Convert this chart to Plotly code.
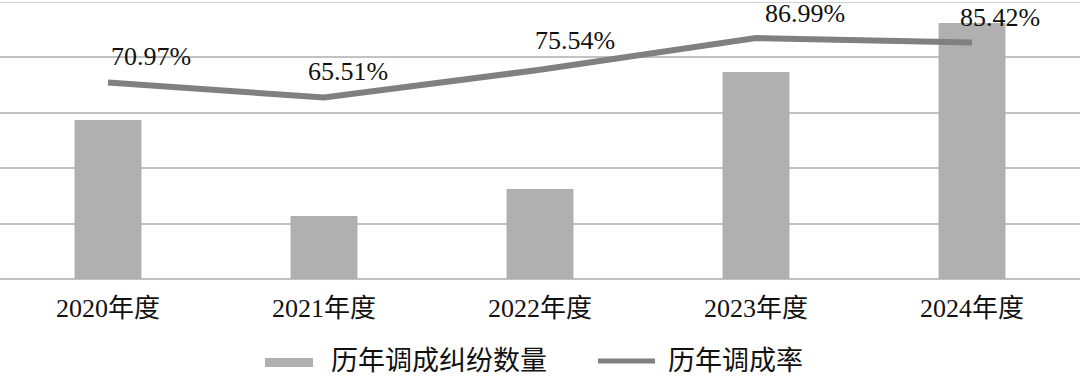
import plotly.graph_objects as go

# ---- data ----
categories = ["2020年度", "2021年度", "2022年度", "2023年度", "2024年度"]
dispute_counts = [574, 227, 325, 747, 924]          # 历年调成纠纷数量 (relative, no axis labels shown)
success_rate = [70.97, 65.51, 75.54, 86.99, 85.42]  # 历年调成率 (%)
rate_labels = ["70.97%", "65.51%", "75.54%", "86.99%", "85.42%"]
series_names = ["历年调成纠纷数量", "历年调成率"]

# ---- styling ----
label_dx = [43, 24, 35, 49, 28]
label_dy = [26, 26, 29, 25, 25]
BAR_COLOR = "#b0b0b0"
LINE_COLOR = "#808080"
GRID_COLOR = "#c2c2c2"
FONT = "Liberation Serif, Noto Sans CJK SC, serif"

W, H = 1080, 377
TOP, BOTTOM = 2, 279


def py(y):
    return (BOTTOM - y) / (BOTTOM - TOP)


def px(x):
    return x / W


fig = go.Figure()
fig.add_trace(go.Bar(x=categories, y=dispute_counts, name=series_names[0],
                     marker=dict(color=BAR_COLOR, line=dict(width=0)),
                     width=0.31, yaxis="y", showlegend=False))
fig.add_trace(go.Scatter(x=categories, y=success_rate, name=series_names[1],
                         mode="lines", line=dict(color=LINE_COLOR, width=6),
                         yaxis="y2", showlegend=False))

annotations = []
for c, v, t, dx, dy in zip(categories, success_rate, rate_labels, label_dx, label_dy):
    annotations.append(dict(x=c, y=v, xref="x", yref="y2", text=t, showarrow=False,
                            xshift=dx, yshift=dy,
                            font=dict(family=FONT, size=26, color="#111111")))

# custom legend
shapes = [
    dict(type="line", xref="paper", yref="y", x0=0, x1=1, y0=1000, y1=1000,
         line=dict(color=GRID_COLOR, width=1.5), layer="below"),
    dict(type="rect", xref="paper", yref="paper",
         x0=px(265), x1=px(313), y0=py(367), y1=py(358),
         fillcolor=BAR_COLOR, line=dict(width=0)),
    dict(type="line", xref="paper", yref="paper",
         x0=px(598), x1=px(655), y0=py(361), y1=py(361),
         line=dict(color=LINE_COLOR, width=5)),
]
annotations.append(dict(x=px(329), y=py(361), xref="paper", yref="paper",
                        text=series_names[0], showarrow=False, xanchor="left", yanchor="middle",
                        font=dict(family=FONT, size=27, color="#111111")))
annotations.append(dict(x=px(666), y=py(361), xref="paper", yref="paper",
                        text=series_names[1], showarrow=False, xanchor="left", yanchor="middle",
                        font=dict(family=FONT, size=27, color="#111111")))

fig.update_layout(
    width=W, height=H,
    margin=dict(l=0, r=0, t=TOP, b=H - BOTTOM),
    paper_bgcolor="white", plot_bgcolor="white",
    xaxis=dict(type="category", showgrid=False, showline=False, ticks="",
               tickfont=dict(family=FONT, size=26, color="#111111"),
               ticklabelstandoff=11),
    yaxis=dict(range=[0, 1000], dtick=200, showgrid=True, gridcolor=GRID_COLOR,
               gridwidth=1.5, showticklabels=False, zeroline=True,
               zerolinecolor=GRID_COLOR, zerolinewidth=1.5, showline=False),
    yaxis2=dict(range=[0, 100], overlaying="y", side="right", showgrid=False,
                showticklabels=False, zeroline=False, showline=False),
    annotations=annotations,
    shapes=shapes,
    showlegend=False,
)

fig.write_html("out.html", config={"displayModeBar": False},
               post_script="document.body.style.margin='0px';")
